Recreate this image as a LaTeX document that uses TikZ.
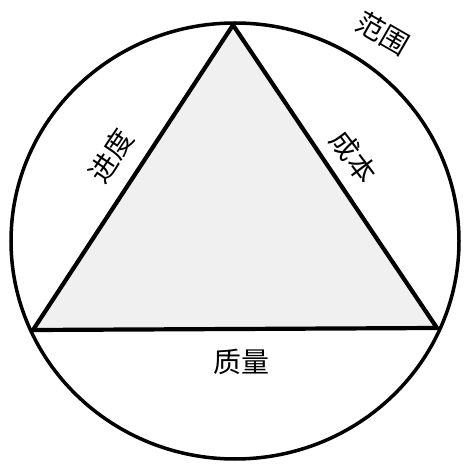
\documentclass[tikz,border=0pt]{standalone}
\usepackage{fontspec}
\newfontfamily\cjk{Noto Sans CJK SC}
\usetikzlibrary{positioning}

\begin{document}
\begin{tikzpicture}[x=1pt,y=1pt,
        tag/.style={font=\cjk\fontsize{28}{32}\selectfont, inner sep=0pt},
        side/.style={line width=4.2pt, line join=round}]
        \useasboundingbox (0,0) rectangle (469,469);
        % vertices on the circle
        \coordinate (top) at (233,444);
        \coordinate (bl) at (33,139);
        \coordinate (br) at (437,141);
        \fill[black!6] (top) -- (bl) -- (br) -- cycle;
        \draw[line width=3.5pt] (235,228) ellipse [x radius=224, y radius=218];
        \draw[side] (top) -- (bl) -- (br) -- cycle;
        \node[tag, rotate=-30] (fanwei) at (383,436) {范围};
        \node[tag, rotate=56] (jindu) at (111,313) {进度};
        \node[tag, rotate=-53] (chengben) at (354,312) {成本};
        \node[tag] (zhiliang) at (241,107) {质量};
\end{tikzpicture}
\end{document}
